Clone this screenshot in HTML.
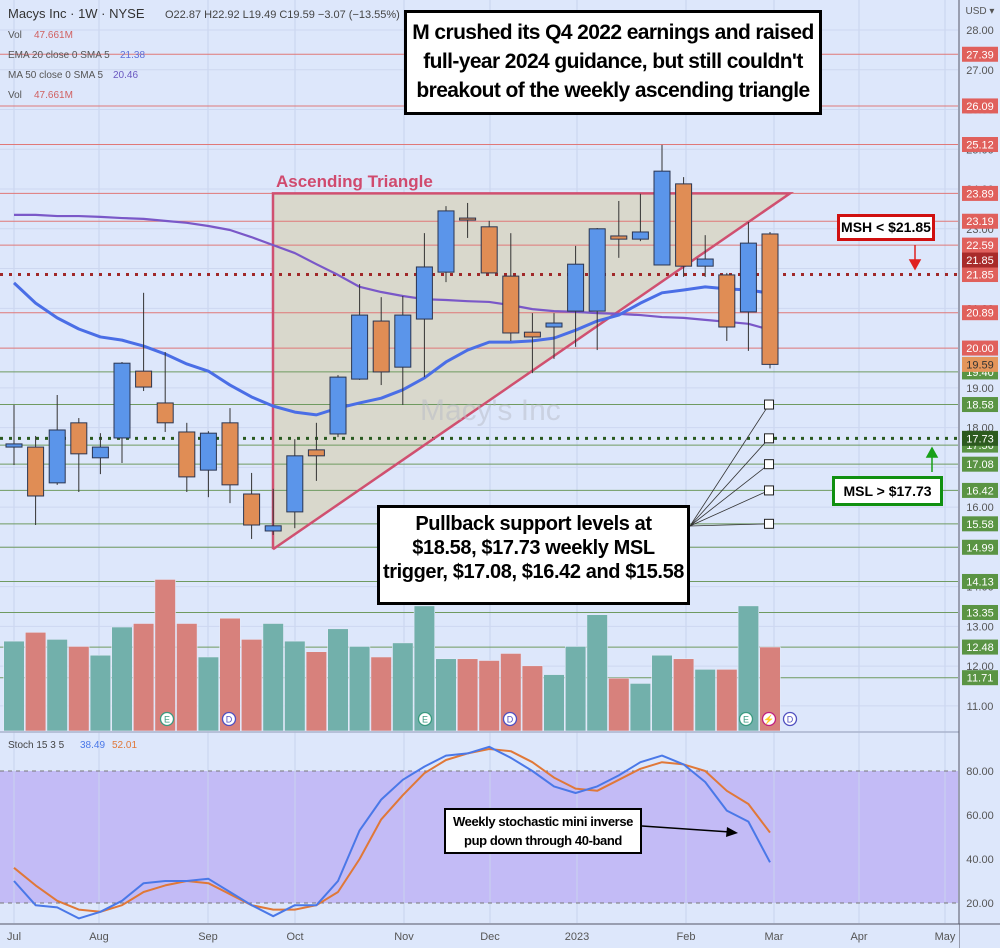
<!DOCTYPE html>
<html><head><meta charset="utf-8"><style>
html,body{margin:0;padding:0;background:#dde7fb;}
svg{display:block;font-family:"Liberation Sans",sans-serif;}
.box{position:absolute;background:#fff;border:3px solid #000;font-family:"Liberation Sans",sans-serif;font-weight:bold;text-align:center;color:#000;box-sizing:border-box;white-space:nowrap;}
</style></head><body>
<div style="position:relative;width:1000px;height:948px;overflow:hidden">
<svg id="c" width="1000" height="948" viewBox="0 0 1000 948"></svg>
<div class="box" style="left:404px;top:10px;width:418px;height:105px;font-size:21px;line-height:29px;padding-top:5px;letter-spacing:-0.6px">M crushed its Q4 2022 earnings and raised<br>full-year 2024 guidance, but still couldn't<br>breakout of the weekly ascending triangle</div>
<div class="box" style="left:377px;top:505px;width:313px;height:100px;font-size:20px;line-height:24px;padding-top:4px;letter-spacing:-0.4px">Pullback support levels at<br>$18.58, $17.73 weekly MSL<br>trigger, $17.08, $16.42 and $15.58</div>
<div class="box" style="left:837px;top:214px;width:98px;height:27px;font-size:14px;line-height:21px;border-color:#d01010">MSH &lt; $21.85</div>
<div class="box" style="left:832px;top:476px;width:111px;height:30px;font-size:14px;line-height:24px;border-color:#109010">MSL &gt; $17.73</div>
<div class="box" style="left:444px;top:808px;width:198px;height:46px;font-size:13px;line-height:19px;border-width:2px;padding-top:2px;letter-spacing:-0.4px">Weekly stochastic mini inverse<br>pup down through 40-band</div>
</div>
<script>
const opens=[17.51,17.51,16.61,18.12,17.24,17.74,19.42,18.62,17.89,16.93,18.12,16.33,15.40,15.88,17.44,17.84,19.22,20.68,19.52,20.73,21.91,23.27,23.05,21.81,20.40,20.53,20.93,20.93,22.82,22.74,22.09,24.13,22.06,21.84,20.91,22.87];
const highs=[18.57,17.79,18.82,18.24,17.86,19.65,21.39,19.90,18.12,17.91,18.49,16.86,16.46,17.71,18.12,19.32,21.61,21.28,21.31,22.89,23.57,23.65,23.20,22.89,20.88,20.88,22.57,23.02,23.70,23.88,25.11,24.30,22.84,21.89,23.17,22.92];
const lows=[17.06,15.55,16.56,16.38,16.83,17.11,18.92,17.89,16.38,16.25,16.10,15.20,15.30,15.47,16.66,17.76,19.20,19.07,18.57,19.27,21.66,22.77,21.89,20.18,19.37,19.73,20.03,19.95,22.27,22.69,22.09,21.79,21.79,20.18,19.93,19.49];
const closes=[17.59,16.28,17.94,17.34,17.51,19.62,19.02,18.12,16.76,17.86,16.56,15.55,15.53,17.29,17.29,19.27,20.83,19.40,20.83,22.04,23.45,23.25,21.89,20.38,20.28,20.63,22.11,23.00,22.74,22.92,24.45,22.06,22.24,20.53,22.64,19.59];
const volumes=[51,56,52,48,43,59,61,86,61,42,64,52,61,51,45,58,48,42,50,71,41,41,40,44,37,32,48,66,30,27,43,41,35,35,71,47.66];
const ema20=[21.64,21.13,20.76,20.48,20.28,20.20,20.05,19.85,19.60,19.42,19.07,18.77,18.54,18.39,18.32,18.49,18.62,18.74,18.95,19.25,19.65,19.95,20.15,20.15,20.18,20.25,20.45,20.68,20.83,21.13,21.39,21.46,21.54,21.49,21.46,21.38];
const ma50=[23.35,23.35,23.32,23.32,23.30,23.27,23.25,23.20,23.15,23.07,22.97,22.79,22.59,22.39,22.11,21.84,21.54,21.41,21.31,21.23,21.21,21.18,21.16,21.08,20.98,20.93,20.91,20.88,20.86,20.83,20.78,20.76,20.71,20.66,20.61,20.46];
const stochK=[30,19,18,13,16,21,29,30,30,31,25,19,14,19,19,30,53,67,76,82,87,88,91,86,80,73,70,73,78,84,87,83,75,62,57,38.49];
const stochD=[36,28,21,17,16,19,25,28,30,29,24,19,17,17,19,25,40,58,69,79,85,88,90,89,84,77,72,71,76,81,84,83,80,71,65,52.01];
const redLevels=[27.39,26.09,25.12,23.89,23.19,22.59,20.89,20.00];
const greenLevels=[19.40,18.58,17.56,17.08,16.42,15.58,14.99,14.13,13.35,12.48,11.71];
const priceTicks=[28,27,26,25,24,23,22,21,20,19,18,17,16,15,14,13,12,11];
const stochTicks=[80,60,40,20];
const months=["Jul","Aug","Sep","Oct","Nov","Dec","2023","Feb","Mar","Apr","May"];
const monthPos=[14,99,208,295,404,490,577,686,774,859,945];
const supportTargets=[18.58,17.73,17.08,16.42,15.58];

const NS="http://www.w3.org/2000/svg";
const svg=document.getElementById('c');
function el(t,a,p){const e=document.createElementNS(NS,t);for(const k in a)e.setAttribute(k,a[k]);(p||svg).appendChild(e);return e;}
const X=i=>14+i*21.6;
const Y=p=>30+(28-p)*39.76;
const VY=v=>731-v*1.7625;
const SY=v=>771+(80-v)*2.2;

let e;
e=el('rect',{x:0,y:0,width:958,height:731,fill:'#dde7fb'});


e=el('rect',{x:0,y:733,width:958,height:190,fill:'#dde7fb'});


e=el('rect',{x:0,y:SY(80),width:958,height:SY(20)-SY(80),fill:'#c3bbf6'});


monthPos.forEach((m,i)=>{
 e=el('line',{x1:m,x2:m,y1:0,y2:923,stroke:'#c8d3ee','stroke-width':1});
 
 
});
priceTicks.forEach(t=>{
 e=el('line',{x1:0,x2:958,y1:Y(t),y2:Y(t),stroke:'#cdd7f0','stroke-width':1});
 
 
});
const triBase=Y(14.99)+2, triTop=Y(23.89);
e=el('polygon',{points:`273,${triTop} 790,${triTop} 273,${triBase}`,fill:'#d9d8cc'});


redLevels.forEach(l=>{
 e=el('line',{x1:0,x2:958,y1:Y(l),y2:Y(l),stroke:'#e07878','stroke-width':1});
 
 
});
greenLevels.forEach(l=>{
 e=el('line',{x1:0,x2:958,y1:Y(l),y2:Y(l),stroke:'#6f9a60','stroke-width':1});
 
 
});
e=el('line',{x1:0,x2:958,y1:Y(21.85),y2:Y(21.85),stroke:'#a02828','stroke-width':3,'stroke-dasharray':'3,6'});


e=el('line',{x1:0,x2:958,y1:Y(17.73),y2:Y(17.73),stroke:'#2a5a20','stroke-width':3,'stroke-dasharray':'3,6'});


e=el('polyline',{points:`273,${triBase} 273,${triTop} 790,${triTop} 273,${triBase}`,fill:'none',stroke:'#d05070','stroke-width':2.5});


e=el('text',{x:276,y:187,fill:'#d04a6e','font-size':17,'font-weight':'bold'});
e.textContent='Ascending Triangle';


e=el('text',{x:420,y:420,fill:'#b8bcc8','font-size':30,opacity:0.5});
e.textContent="Macy's Inc";


volumes.forEach((v,i)=>{
 const up=closes[i]>=opens[i];
 e=el('rect',{x:X(i)-10.3,y:VY(v),width:20.6,height:731-VY(v),fill:up?'#72b0ab':'#d7817c',stroke:'#e4eafa','stroke-width':0.6});
 
 
});
function line(arr,f,color,w,name){
 const pts=arr.map((v,i)=>X(i)+','+f(v)).join(' ');
 const l=el('polyline',{points:pts,fill:'none',stroke:color,'stroke-width':w,'stroke-linejoin':'round'});
 
 
}
line(ma50,Y,'#7a58c8',2.2,'ma50-line');
line(ema20,Y,'#4a6ee6',3,'ema20-line');
opens.forEach((o,i)=>{
 const c=closes[i],up=c>=o,x=X(i);
 e=el('line',{x1:x,x2:x,y1:Y(highs[i]),y2:Y(lows[i]),stroke:'#333','stroke-width':1});
 
 
 const top=Y(Math.max(o,c)),h=Math.max(2,Math.abs(Y(o)-Y(c)));
 e=el('rect',{x:x-8,y:top,width:16,height:h,fill:up?'#5b95ea':'#e08d55',stroke:'#2b3550','stroke-width':1});
 
 
});
supportTargets.forEach(t=>{
 e=el('line',{x1:690,y1:526,x2:769,y2:Y(t),stroke:'#333','stroke-width':0.8});
 
 
 e=el('rect',{x:764.5,y:Y(t)-4.5,width:9,height:9,fill:'#fff',stroke:'#222','stroke-width':1});
 
 
});
e=el('path',{d:'M915 245 V262 M910 260 L915 269 L920 260 Z',stroke:'#e02020',fill:'#e02020','stroke-width':1.5});


e=el('path',{d:'M932 472 V455 M927 457 L932 448 L937 457 Z',stroke:'#18a018',fill:'#18a018','stroke-width':1.5});


[[167,'E','#3a9a80'],[229,'D','#5050c0'],[425,'E','#3a9a80'],[510,'D','#5050c0'],[746,'E','#3a9a80'],[769,'⚡','#c02080'],[790,'D','#5050c0']].forEach(a=>{
 e=el('circle',{cx:a[0],cy:719,r:6.5,fill:'#fff',stroke:a[2],'stroke-width':1.3});
 
 
 e=el('text',{x:a[0],y:722.5,'text-anchor':'middle','font-size':9,fill:a[2]});
 e.textContent=a[1];
 
 
});
e=el('line',{x1:0,x2:1000,y1:732,y2:732,stroke:'#aab4cc','stroke-width':1.5});


[80,20].forEach(v=>{
 e=el('line',{x1:0,x2:958,y1:SY(v),y2:SY(v),stroke:'#777','stroke-width':1,'stroke-dasharray':'4,4'});
 
 
});
line(stochD,SY,'#e07838',2,'stoch-d-line');
line(stochK,SY,'#4a78e8',2,'stoch-k-line');
e=el('line',{x1:642,y1:826,x2:730,y2:832,stroke:'#000','stroke-width':1.5});


e=el('path',{d:'M738 833 L727 827 L726 837 Z',fill:'#000'});


e=el('rect',{x:959,y:0,width:41,height:948,fill:'#dde7fb'});


e=el('line',{x1:959,x2:959,y1:0,y2:948,stroke:'#556','stroke-width':1});


e=el('rect',{x:0,y:924,width:959,height:24,fill:'#dde7fb'});


e=el('line',{x1:0,x2:1000,y1:924,y2:924,stroke:'#556','stroke-width':1});


months.forEach((m,i)=>{
 e=el('text',{x:monthPos[i],y:940,'text-anchor':'middle','font-size':11,fill:'#555'});
 e.textContent=m;
 
 
});
priceTicks.forEach(t=>{
 e=el('text',{x:980,y:Y(t)+4,'text-anchor':'middle','font-size':11,fill:'#555'});
 e.textContent=t.toFixed(2);
 
 
});
stochTicks.forEach(t=>{
 e=el('text',{x:980,y:SY(t)+4,'text-anchor':'middle','font-size':11,fill:'#555'});
 e.textContent=t.toFixed(2);
 
 
});
e=el('text',{x:980,y:14,'text-anchor':'middle','font-size':10,fill:'#555'});
e.textContent='USD ▾';


function tag(v,bg,fg,name){
 const b=el('rect',{x:962,y:Y(v)-7.5,width:36,height:15,fill:bg});
 
 
 const t=el('text',{x:980,y:Y(v)+4,'text-anchor':'middle','font-size':11,fill:fg});
 t.textContent=v.toFixed(2);
 
 
}
redLevels.forEach(v=>tag(v,'#e0605c','#fff','resistance-tag'));
tag(21.85,'#e0605c','#fff','msh-tag');
const b=el('rect',{x:962,y:Y(21.85)-22,width:36,height:15,fill:'#a82a2a'});


e=el('text',{x:980,y:Y(21.85)-10.5,'text-anchor':'middle','font-size':11,fill:'#fff'});
e.textContent='21.85';


greenLevels.forEach(v=>tag(v,'#5a9444','#fff','support-tag'));
tag(17.73,'#2c5a1e','#fff','msl-tag');
tag(19.59,'#e4955a','#333','last-price-tag');
const leg=[[8,18,'Macys Inc · 1W · NYSE',13,'#333'],[8,38,'Vol',10,'#555'],[8,58,'EMA 20 close 0 SMA 5',10,'#555'],[8,78,'MA 50 close 0 SMA 5',10,'#555'],[8,98,'Vol',10,'#555']];
leg.forEach(l=>{
 e=el('text',{x:l[0],y:l[1],'font-size':l[3],fill:l[4]});
 e.textContent=l[2];
 
 
});
[[34,38,'47.661M','#d06060',10],[120,58,'21.38','#6070d8',10],[113,78,'20.46','#6a58c0',10],[34,98,'47.661M','#d06060',10],[165,18,'O22.87 H22.92 L19.49 C19.59 −3.07 (−13.55%)','#444',11]].forEach(l=>{
 e=el('text',{x:l[0],y:l[1],'font-size':l[4],fill:l[3]});
 e.textContent=l[2];
 
 
});
e=el('text',{x:8,y:748,'font-size':10,fill:'#444'});
e.textContent='Stoch 15 3 5';


e=el('text',{x:80,y:748,'font-size':10,fill:'#4a78e8'});
e.textContent='38.49';


e=el('text',{x:112,y:748,'font-size':10,fill:'#e07838'});
e.textContent='52.01';


</script>
</body></html>
